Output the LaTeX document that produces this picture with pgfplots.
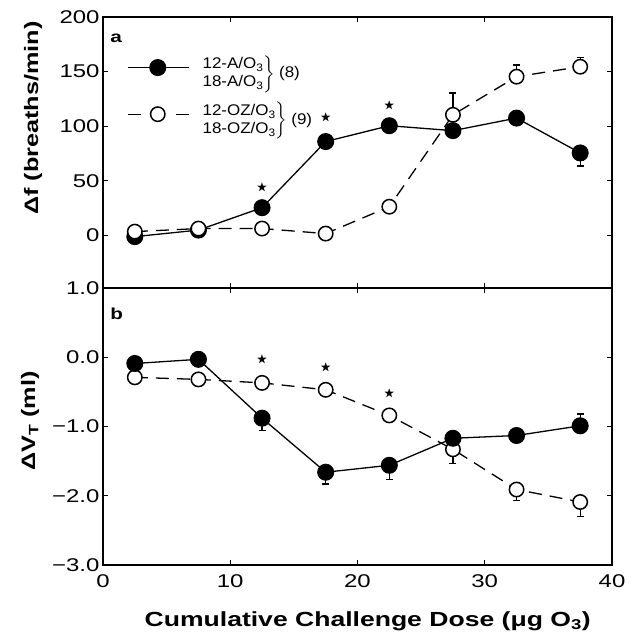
\documentclass[border=0pt]{standalone}
\usepackage{amssymb}
\usepackage{pgfplots}
\pgfplotsset{compat=1.18}
\usepackage{fontspec}
\setmainfont{Liberation Sans}[FakeStretch=1.3]
\newfontfamily\legfont{Liberation Sans}[FakeStretch=1.1]
\begin{document}
\begin{tikzpicture}
\path[use as bounding box] (0bp,0bp) rectangle (640bp,-634bp);
\pgfplotsset{
 myaxis/.style={
   scale only axis, width=509bp, xmin=0, xmax=40, xtick={0,10,20,30,40},
   axis line style={line width=2.4bp},
   every tick/.style={black, line width=1bp},
   major tick length=5bp,
   tick align=inside,
   tick label style={font=\fontsize{18.5}{18.5}\selectfont},
   /pgf/number format/assume math mode=true,
   label style={font=\bfseries\fontsize{19.5}{20}\selectfont},
   clip=false,
 },
 fil/.style={black, solid, line width=1.3bp, mark=*, mark size=8bp,
   mark options={solid, fill=black, line width=1bp},
   legend image code/.code={\draw[mark repeat=2, mark phase=2] plot coordinates {(0bp,0bp) (30bp,0bp) (61bp,0bp)};},
   error bars/.cd, y dir=both, y explicit, error mark=|,
   error bar style={solid, line width=1.2bp},
   error mark options={solid, line width=1.2bp, mark size=3.5bp}},
 opn/.style={black, line width=1.3bp, dash pattern=on 13bp off 8bp, mark=*, mark size=7.2bp,
   mark options={solid, fill=white, line width=1.5bp},
   legend image code/.code={\draw[dash pattern=on 13bp off 35bp, mark repeat=2, mark phase=2] plot coordinates {(0bp,0bp) (30bp,0bp) (61bp,0bp)};},
   error bars/.cd, y dir=both, y explicit, error mark=|,
   error bar style={solid, line width=1.2bp},
   error mark options={solid, line width=1.2bp, mark size=3.5bp}},
 stars/.style={only marks, mark=text, text mark={\fontsize{11}{11}\selectfont$\bigstar$}},
}
% ---------- panel a ----------
\begin{axis}[myaxis, at={(103bp,-17bp)}, anchor=north west, height=271bp,
  ymin=-48, ymax=200, ytick={0,50,100,150,200}, xticklabels={},
  ylabel={Δf (breaths/min)},
  ylabel style={at={(axis description cs:-0.1375,0.627)}, anchor=center},
  legend style={draw=none, fill=none, at={(axis description cs:0.047,0.865)}, anchor=north west,
    inner sep=0pt, row sep=19bp, column sep=10bp, font=\legfont\fontsize{15.5}{18}\selectfont,
    cells={anchor=west}},
]
\addplot[fil] coordinates {(2.5,-1) (7.5,5) (12.5,25.5) (17.5,86) (22.5,100.5) (27.5,96) (32.5,107.5) (37.5,75.6) -= (0,12)};
\addlegendentry{$\left.\begin{tabular}{@{}l@{}}12-A/O\textsubscript{3}\\18-A/O\textsubscript{3}\end{tabular}\right\}$\hspace{4bp}(8)}
\addplot[opn] coordinates {(2.5,3.6) (7.5,6.4) (12.5,6.4) (17.5,1.8) (22.5,26.4) (27.5,110.5) += (0,20) (32.5,145.4) += (0,10.6) (37.5,154.5) += (0,8.5)};
\addlegendentry{$\left.\begin{tabular}{@{}l@{}}12-OZ/O\textsubscript{3}\\18-OZ/O\textsubscript{3}\end{tabular}\right\}$\hspace{4bp}(9)}
\addplot[stars, forget plot] coordinates {(12.5,43.7) (17.5,107.5) (22.5,118.7)};
\node[font=\bfseries\fontsize{16}{16}\selectfont] at (axis description cs:0.026,0.922) {a};
\end{axis}
% ---------- panel b ----------
\begin{axis}[myaxis, at={(103bp,-288bp)}, anchor=north west, height=277bp,
  ymin=-3, ymax=1, ytick={-3,-2,-1,0,1},
  yticklabels={\textminus3.0,\textminus2.0,\textminus1.0,0.0,1.0},
  xticklabel style={yshift=-6bp},
  ylabel={ΔV\textsubscript{T} (ml)},
  ylabel style={at={(axis description cs:-0.143,0.52)}, anchor=center},
  xlabel={Cumulative Challenge Dose (μg O\textsubscript{3})},
  xlabel style={at={(axis description cs:0.52,-0.202)}, anchor=center, font=\bfseries\fontsize{20.5}{21}\selectfont},
]
\addplot[opn] coordinates {(2.5,-0.29) (7.5,-0.32) (12.5,-0.37) (17.5,-0.47) (22.5,-0.84) (27.5,-1.33) -= (0,0.21) (32.5,-1.91) -= (0,0.16) (37.5,-2.09) -= (0,0.21)};
\addplot[fil] coordinates {(2.5,-0.09) (7.5,-0.03) (12.5,-0.88) -= (0,0.18) (17.5,-1.66) -= (0,0.17) (22.5,-1.56) -= (0,0.2) (27.5,-1.17) (32.5,-1.13) (37.5,-0.99) += (0,0.17)};
\addplot[stars] coordinates {(12.5,-0.04) (17.5,-0.15) (22.5,-0.53)};
\node[font=\bfseries\fontsize{16}{16}\selectfont] at (axis description cs:0.027,0.906) {b};
\end{axis}
\end{tikzpicture}
\end{document}
